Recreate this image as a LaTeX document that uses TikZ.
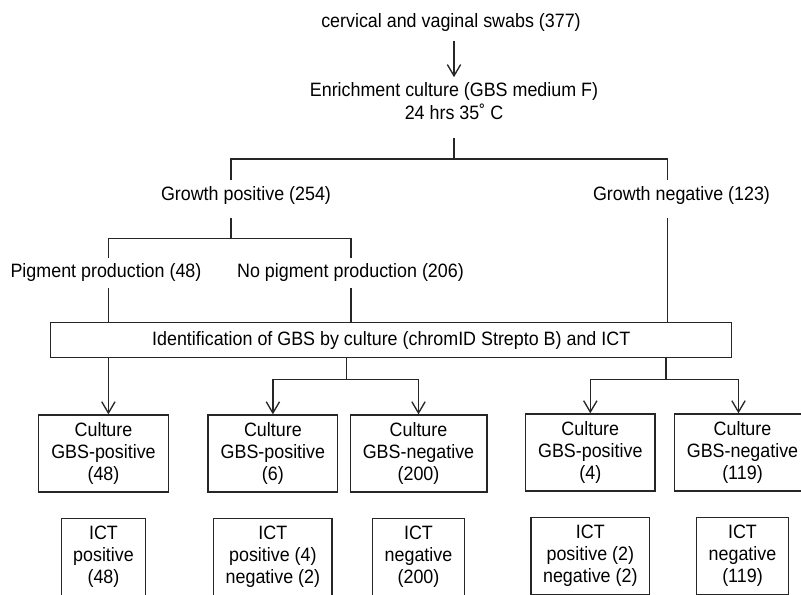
\documentclass[tikz,border=0pt]{standalone}
\usepackage{fontspec}
\setmainfont{Liberation Sans}[FakeStretch=0.925]
\usetikzlibrary{arrows.meta, positioning}

\begin{document}
\begin{tikzpicture}[
    x=0.75pt, y=-0.75pt,
    every node/.style={font=\fontsize{14.5pt}{16.5pt}\selectfont},
    txt/.style={inner sep=0pt, align=center},
    box/.style={draw=black!85, line width=1pt, align=center, inner ysep=0pt, minimum height=57.75pt},
    cbox/.style={box, inner xsep=9.5pt},
    ictbox/.style={box, inner xsep=9pt},
    line/.style={draw=black!85, line width=1pt},
    arrow/.style={line, -{Straight Barb[length=8.5pt, width=10pt]}}
  ]
    \useasboundingbox (0,0) rectangle (801,594);

    \node[txt] (swabs) at (451,22) {cervical and vaginal swabs (377)};
    \node[txt, font=\fontsize{14.5pt}{17pt}\selectfont] (enrich) at (454,100.8) {Enrichment culture (GBS medium F)\\24 hrs 35˚ C};

    \node[txt] (gpos) at (246,195) {Growth positive (254)};
    \node[txt] (gneg) at (681.5,195) {Growth negative (123)};
    \node[txt] (pig) at (106,272) {Pigment production (48)};
    \node[txt] (nopig) at (350.5,272) {No pigment production (206)};

    \node[box, minimum width=510.75pt, minimum height=26pt] (ident) at (391.2,340) {Identification of GBS by culture (chromID Strepto B) and ICT};

    \node[cbox] (cpos1) at (103.5,453.5) {Culture\\GBS-positive\\(48)};
    \node[cbox] (cpos2) at (272.9,453.5) {Culture\\GBS-positive\\(6)};
    \node[cbox] (cneg2) at (418.5,453.5) {Culture\\GBS-negative\\(200)};
    \node[cbox] (cpos3) at (590.3,452.5) {Culture\\GBS-positive\\(4)};
    \node[cbox] (cneg3) at (742.5,452.5) {Culture\\GBS-negative\\(119)};

    \node[ictbox, below=19pt of cpos1] (ict1) {ICT\\positive\\(48)};
    \node[ictbox, below=19pt of cpos2] (ict2) {ICT\\positive (4)\\negative (2)};
    \node[ictbox, below=19pt of cneg2] (ict3) {ICT\\negative\\(200)};
    \node[ictbox, below=18.75pt of cpos3] (ict4) {ICT\\positive (2)\\negative (2)};
    \node[ictbox, below=18.75pt of cneg3] (ict5) {ICT\\negative\\(119)};

    % split points
    \coordinate (s1l) at (231,159);
    \coordinate (s1r) at (667.5,159);
    \coordinate (s2l) at (108.4,238.3);
    \coordinate (s2r) at (351,238.3);
    \coordinate (s3) at (346.8,379.3);
    \coordinate (s4) at (666,379.3);

    \draw[arrow, shorten <=7.2pt, shorten >=3.7pt] (enrich.north |- swabs.south) -- (enrich.north);
    \draw[line, shorten <=14.2pt] (enrich.south) -- (enrich.south |- s1l);
    \draw[line, shorten <=4.4pt, shorten >=4.4pt] (gpos.north -| s1l) -- (s1l) -- (s1r) -- (gneg.north -| s1r);

    \draw[line, shorten <=10.4pt] (gpos.south -| s1l) -- (s1l |- s2l);
    \draw[line, shorten <=3.4pt, shorten >=3.4pt] (pig.north -| s2l) -- (s2l) -- (s2r) -- (nopig.north -| s2r);

    \draw[line, shorten <=5.1pt] (pig.south -| s2l) -- (s2l |- ident.north);
    \draw[line, shorten <=5.1pt] (nopig.south -| s2r) -- (s2r |- ident.north);
    \draw[line, shorten <=10.4pt] (gneg.south -| s1r) -- (s1r |- ident.north);

    \draw[arrow] (s2l |- ident.south) -- (s2l |- cpos1.north);
    \draw[arrow] (ident.south -| s3) -- (s3) -| (cpos2.north);
    \draw[arrow] (s3) -| (cneg2.north);
    \draw[arrow] (ident.south -| s4) -- (s4) -| (cpos3.north);
    \draw[arrow] (s4) -| ([xshift=-3pt]cneg3.north);
  \end{tikzpicture}
\end{document}
